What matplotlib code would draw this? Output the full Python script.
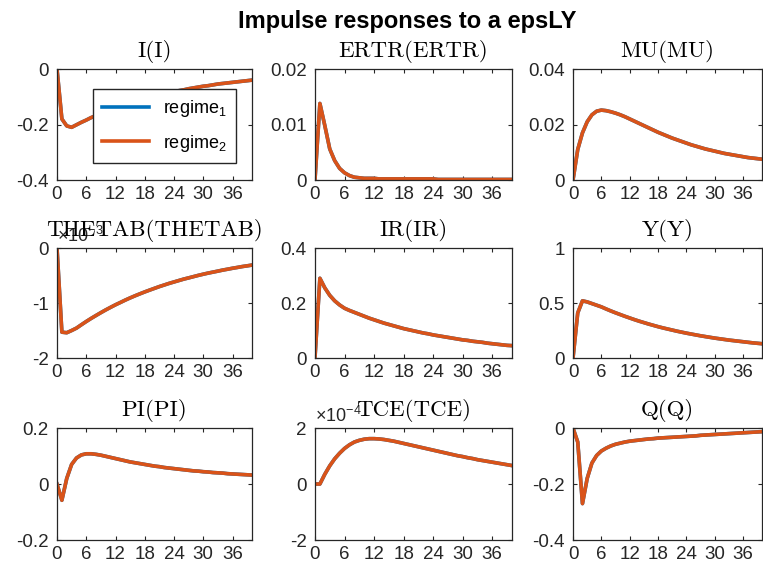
import matplotlib
matplotlib.use("Agg")
import matplotlib.pyplot as plt
from matplotlib.ticker import FuncFormatter

plt.rcParams['font.family'] = ['Liberation Sans', 'DejaVu Sans']
plt.rcParams['mathtext.fontset'] = 'custom'
plt.rcParams['mathtext.rm'] = 'Liberation Sans'
plt.rcParams['mathtext.it'] = 'Liberation Sans:italic'
plt.rcParams['axes.unicode_minus'] = False

# horizon 0..40
t = list(range(41))

I_I = [0, -0.180, -0.205, -0.210, -0.201, -0.192, -0.184, -0.175, -0.168, -0.160,
       -0.153, -0.147, -0.140, -0.134, -0.128, -0.122, -0.117, -0.112, -0.107, -0.102,
       -0.098, -0.093, -0.089, -0.085, -0.082, -0.078, -0.075, -0.071, -0.068, -0.065,
       -0.062, -0.060, -0.057, -0.054, -0.052, -0.050, -0.048, -0.046, -0.044, -0.042, -0.040]

ERTR = [0, 0.0138, 0.0098, 0.0056, 0.0035, 0.0021, 0.0013, 0.0008, 0.0005, 0.0004,
        0.0003, 0.0003, 0.0003, 0.0002, 0.0002, 0.0002, 0.0002, 0.0002, 0.0002, 0.0002,
        0.0002, 0.0002, 0.0002, 0.0002, 0.0002, 0.0001, 0.0001, 0.0001, 0.0001, 0.0001,
        0.0001, 0.0001, 0.0001, 0.0001, 0.0001, 0.0001, 0.0001, 0.0001, 0.0001, 0.0001, 0.0001]

MU = [0, 0.0110, 0.0170, 0.0210, 0.0235, 0.0248, 0.0252, 0.0250, 0.0246, 0.0241,
      0.0235, 0.0228, 0.0220, 0.0212, 0.0204, 0.0196, 0.0188, 0.0180, 0.0172, 0.0165,
      0.0158, 0.0151, 0.0145, 0.0139, 0.0133, 0.0127, 0.0122, 0.0117, 0.0112, 0.0108,
      0.0104, 0.0100, 0.0096, 0.0093, 0.0090, 0.0087, 0.0084, 0.0081, 0.0079, 0.0077, 0.0075]

THETAB = [0, -1.53e-3, -1.54e-3, -1.50e-3, -1.456e-3, -1.395e-3, -1.336e-3, -1.280e-3, -1.227e-3, -1.175e-3,
          -1.125e-3, -1.078e-3, -1.032e-3, -0.990e-3, -0.947e-3, -0.907e-3, -0.869e-3, -0.833e-3, -0.798e-3, -0.765e-3,
          -0.733e-3, -0.701e-3, -0.672e-3, -0.643e-3, -0.617e-3, -0.591e-3, -0.565e-3, -0.543e-3, -0.520e-3, -0.497e-3,
          -0.476e-3, -0.456e-3, -0.438e-3, -0.420e-3, -0.401e-3, -0.385e-3, -0.368e-3, -0.353e-3, -0.337e-3, -0.324e-3, -0.310e-3]

IR = [0, 0.290, 0.255, 0.228, 0.208, 0.193, 0.181, 0.173, 0.166, 0.159,
      0.152, 0.145, 0.139, 0.133, 0.127, 0.122, 0.117, 0.112, 0.107, 0.103,
      0.099, 0.095, 0.091, 0.088, 0.084, 0.081, 0.078, 0.075, 0.072, 0.069,
      0.066, 0.064, 0.061, 0.059, 0.057, 0.054, 0.052, 0.050, 0.048, 0.046, 0.045]

Y = [0, 0.41, 0.52, 0.51, 0.495, 0.480, 0.465, 0.446, 0.428, 0.411,
     0.395, 0.379, 0.364, 0.349, 0.335, 0.322, 0.309, 0.297, 0.285, 0.274,
     0.264, 0.254, 0.244, 0.235, 0.226, 0.218, 0.210, 0.202, 0.195, 0.188,
     0.181, 0.175, 0.169, 0.163, 0.158, 0.153, 0.148, 0.143, 0.138, 0.134, 0.130]

PI = [0, -0.058, 0.020, 0.070, 0.093, 0.104, 0.108, 0.108, 0.106, 0.103,
      0.099, 0.095, 0.091, 0.087, 0.083, 0.079, 0.076, 0.073, 0.070, 0.067,
      0.064, 0.062, 0.059, 0.057, 0.055, 0.053, 0.051, 0.049, 0.047, 0.046,
      0.044, 0.043, 0.041, 0.040, 0.039, 0.037, 0.036, 0.035, 0.034, 0.033, 0.032]

TCE = [0, 0.0, 0.35e-4, 0.65e-4, 0.90e-4, 1.10e-4, 1.27e-4, 1.40e-4, 1.50e-4, 1.56e-4,
       1.60e-4, 1.62e-4, 1.62e-4, 1.61e-4, 1.59e-4, 1.56e-4, 1.53e-4, 1.49e-4, 1.45e-4, 1.41e-4,
       1.37e-4, 1.33e-4, 1.29e-4, 1.25e-4, 1.21e-4, 1.17e-4, 1.13e-4, 1.09e-4, 1.05e-4, 1.01e-4,
       0.98e-4, 0.94e-4, 0.91e-4, 0.87e-4, 0.84e-4, 0.81e-4, 0.78e-4, 0.75e-4, 0.72e-4, 0.69e-4, 0.66e-4]

Q = [0, -0.050, -0.270, -0.180, -0.125, -0.098, -0.082, -0.072, -0.064, -0.058,
     -0.054, -0.050, -0.047, -0.045, -0.043, -0.041, -0.039, -0.038, -0.036, -0.035,
     -0.034, -0.033, -0.032, -0.031, -0.030, -0.029, -0.028, -0.026, -0.025, -0.024,
     -0.023, -0.022, -0.021, -0.020, -0.019, -0.018, -0.017, -0.016, -0.015, -0.014, -0.013]

names = ['I(I)', 'ERTR(ERTR)', 'MU(MU)', 'THETAB(THETAB)', 'IR(IR)', 'Y(Y)',
         'PI(PI)', 'TCE(TCE)', 'Q(Q)']
series = [I_I, ERTR, MU, THETAB, IR, Y, PI, TCE, Q]
ylims = [(-0.4, 0), (0, 0.02), (0, 0.04), (-2e-3, 0), (0, 0.4), (0, 1),
         (-0.2, 0.2), (-2e-4, 2e-4), (-0.4, 0)]
yticks = [[-0.4, -0.2, 0], [0, 0.01, 0.02], [0, 0.02, 0.04], [-2e-3, -1e-3, 0],
          [0, 0.2, 0.4], [0, 0.5, 1], [-0.2, 0, 0.2], [-2e-4, 0, 2e-4], [-0.4, -0.2, 0]]
exps = {3: -3, 7: -4}
xticks = [0, 6, 12, 18, 24, 30, 36]

c1 = '#0072BD'
c2 = '#D95319'
axcol = '#262626'

fig = plt.figure(figsize=(7.63, 5.72), dpi=100)

lefts = [0.0747, 0.4128, 0.751]
widths = [0.2556, 0.2582, 0.2477]
bottoms = [0.6853, 0.3741, 0.0559]
heights = [0.194, 0.1923, 0.1958]

for k in range(9):
    r, c = divmod(k, 3)
    ax = fig.add_axes([lefts[c], bottoms[r], widths[c], heights[r]])
    l1, = ax.plot(t, series[k], color=c1, lw=2.6, label='regime$_1$')
    l2, = ax.plot(t, series[k], color=c2, lw=2.6, label='regime$_2$')
    ax.set_xlim(0, 40)
    ax.set_ylim(*ylims[k])
    ax.set_xticks(xticks)
    ax.set_yticks(yticks[k])
    if k in exps:
        sc = 10.0 ** -exps[k]
        ax.yaxis.set_major_formatter(FuncFormatter(lambda v, p, sc=sc: '%g' % round(v * sc, 6)))
        ax.text(0.0, 1.015, r'$\times10^{%d}$' % exps[k], transform=ax.transAxes,
                ha='left', va='bottom', fontsize=13, color=axcol)
    else:
        ax.yaxis.set_major_formatter(FuncFormatter(lambda v, p: '%g' % round(v, 6)))
    ax.tick_params(direction='in', top=True, right=True, length=3, width=0.8,
                   labelsize=13.5, colors=axcol)
    ax.tick_params(axis='y', pad=6)
    ax.tick_params(axis='x', pad=4)
    for s in ax.spines.values():
        s.set_color(axcol)
        s.set_linewidth(0.9)
    ax.set_title(names[k], fontfamily='cmr10', fontsize=16.5, pad=9, color='black')
    if k == 0:
        ax.legend(handles=[l1, l2], loc='upper left', bbox_to_anchor=(0.185, 0.82),
                  borderaxespad=0, fontsize=13, handlelength=2.6, labelspacing=0.75,
                  borderpad=0.5, fancybox=False, framealpha=1, edgecolor=axcol)

fig.text(0.534, 0.962, 'Impulse responses to a epsLY', ha='center', va='center',
         fontsize=17, fontweight='bold')

fig.savefig('out.png', dpi=100)
